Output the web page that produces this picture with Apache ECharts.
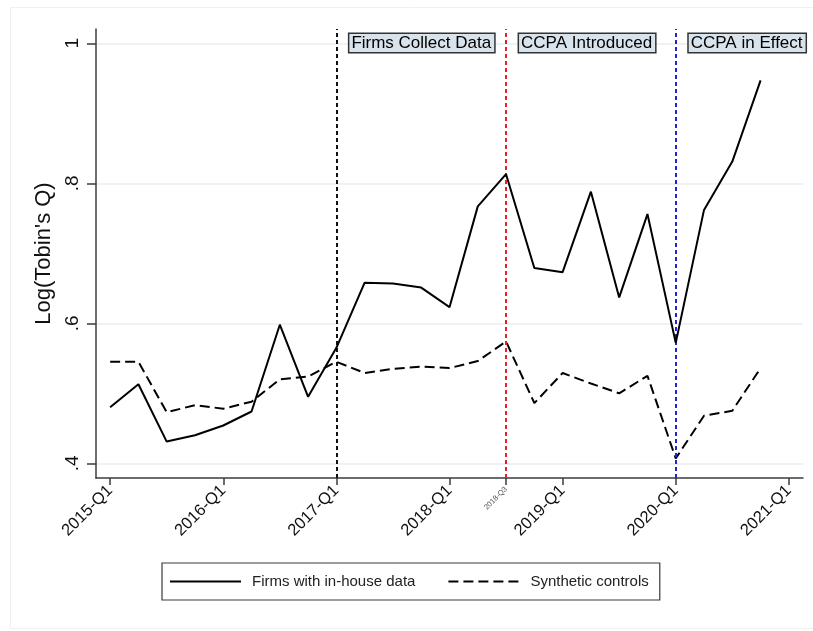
<!DOCTYPE html>
<html>
<head>
<meta charset="utf-8">
<script src="https://cdn.jsdelivr.net/npm/echarts@6/dist/echarts.min.js"></script>
<style>
  html, body { margin: 0; padding: 0; background: #fff; }
  #chart { width: 813px; height: 631px; }
</style>
</head>
<body>
<div id="chart"></div>
<script>
// Quarterly periods on the x axis (last one has no observation)
const quarters = [
  '2015-Q1','2015-Q2','2015-Q3','2015-Q4',
  '2016-Q1','2016-Q2','2016-Q3','2016-Q4',
  '2017-Q1','2017-Q2','2017-Q3','2017-Q4',
  '2018-Q1','2018-Q2','2018-Q3','2018-Q4',
  '2019-Q1','2019-Q2','2019-Q3','2019-Q4',
  '2020-Q1','2020-Q2','2020-Q3','2020-Q4',
  '2021-Q1'
];
// Quarters that get a tick and a label
const labelledQuarters = ['2015-Q1','2016-Q1','2017-Q1','2018-Q1','2018-Q3','2019-Q1','2020-Q1','2021-Q1'];

// Log(Tobin's Q)
const inHouse = [0.480, 0.513, 0.431, 0.440, 0.454, 0.474, 0.598, 0.495,
                 0.565, 0.658, 0.657, 0.651, 0.623, 0.767, 0.813, 0.679,
                 0.673, 0.788, 0.637, 0.756, 0.572, 0.762, 0.831, 0.947];
const synthetic = [0.545, 0.545, 0.473, 0.483, 0.478, 0.488, 0.520, 0.524,
                   0.545, 0.529, 0.535, 0.538, 0.536, 0.546, 0.574, 0.486,
                   0.529, 0.514, 0.500, 0.525, 0.407, 0.468, 0.475, 0.536];

const yTicks = [0.4, 0.6, 0.8, 1.0];

// Event markers: vertical line quarter, colour, and the period label that follows it
const events = [
  { start: '2017-Q1', end: '2018-Q3', color: '#111111', text: 'Firms Collect Data' },
  { start: '2018-Q3', end: '2020-Q1', color: '#e8202a', text: 'CCPA Introduced' },
  { start: '2020-Q1', end: '2021-Q1', color: '#2424cc', text: 'CCPA in Effect' }
];

const FONT = '"Liberation Sans", Arial, sans-serif';

const chart = echarts.init(document.getElementById('chart'), null, { renderer: 'canvas' });

chart.setOption({
  backgroundColor: '#ffffff',
  animation: false,
  textStyle: { fontFamily: FONT },
  graphic: [{
    type: 'rect',
    shape: { x: 10.5, y: 7.5, width: 820, height: 621 },
    style: { fill: 'none', stroke: '#f0f0f0', lineWidth: 1 },
    silent: true,
    z: -10
  }],
  grid: { left: 96, right: 10, top: 29, bottom: 153 },
  xAxis: {
    type: 'category',
    data: quarters,
    boundaryGap: true,
    axisLine: { show: true, lineStyle: { color: '#3c3c3c', width: 1.5 } },
    axisTick: {
      show: true,
      alignWithLabel: true,
      length: 7,
      interval: (i, v) => labelledQuarters.includes(v),
      lineStyle: { color: '#3c3c3c', width: 1.5 }
    },
    axisLabel: {
      interval: (i, v) => labelledQuarters.includes(v),
      rotate: 45,
      margin: 10,
      fontSize: 16.5,
      color: '#111',
      fontFamily: FONT,
      formatter: v => v === '2018-Q3' ? '{small|' + v + '}' : v,
      rich: { small: { fontSize: 7.5, color: '#555', fontFamily: FONT } }
    },
    splitLine: { show: false }
  },
  yAxis: {
    type: 'value',
    min: 0.379,
    max: 1.0204,
    name: "Log(Tobin's Q)",
    nameLocation: 'middle',
    nameGap: 38,
    nameRotate: 90,
    nameTextStyle: { fontSize: 22, color: '#111', fontFamily: FONT },
    axisLine: { show: true, lineStyle: { color: '#3c3c3c', width: 1.5 } },
    axisTick: {
      show: true,
      length: 9,
      customValues: yTicks,
      lineStyle: { color: '#3c3c3c', width: 1.5 }
    },
    axisLabel: {
      customValues: yTicks,
      rotate: 90,
      align: 'center',
      verticalAlign: 'bottom',
      margin: 14,
      fontSize: 19,
      color: '#111',
      fontFamily: FONT,
      formatter: v => (Math.abs(v - 1) < 1e-9 ? '1' : String(+v.toFixed(1)).replace(/^0/, ''))
    },
    splitLine: { show: true, lineStyle: { color: '#e6eef2', width: 1.5 } }
  },
  legend: {
    left: 162,
    top: 563,
    orient: 'horizontal',
    itemWidth: 71,
    itemHeight: 14,
    itemGap: 32,
    padding: [11, 11, 11, 7],
    borderColor: '#3a3a3a',
    borderWidth: 1.2,
    backgroundColor: '#fff',
    itemStyle: { opacity: 0, borderWidth: 0 },
    textStyle: { fontSize: 15, color: '#222', fontFamily: FONT, padding: [0, 0, 0, 6] },
    data: ['Firms with in-house data', 'Synthetic controls']
  },
  series: [
    {
      name: 'Firms with in-house data',
      type: 'line',
      data: inHouse,
      symbol: 'none',
      showSymbol: false,
      lineStyle: { color: '#000', width: 2, type: 'solid' },
      itemStyle: { color: '#000' },
      z: 5,
      markLine: {
        silent: true,
        symbol: ['none', 'none'],
        label: { show: false },
        animation: false,
        data: events.map(e => ({
          xAxis: e.start,
          lineStyle: { color: e.color, type: [4, 3], width: 2 }
        }))
      },
      markArea: {
        silent: true,
        itemStyle: { color: 'rgba(0,0,0,0)' },
        label: {
          show: true,
          position: 'insideTopLeft',
          distance: 5,
          offset: [8, 0],
          fontSize: 17,
          lineHeight: 18,
          color: '#000',
          fontFamily: FONT,
          backgroundColor: '#d8e3ec',
          borderColor: '#333',
          borderWidth: 1.5,
          padding: [0, 3, 0, 2]
        },
        data: events.map(e => [{ xAxis: e.start, name: e.text }, { xAxis: e.end }])
      }
    },
    {
      name: 'Synthetic controls',
      type: 'line',
      data: synthetic,
      symbol: 'none',
      showSymbol: false,
      lineStyle: { color: '#000', width: 2, type: [10, 5] },
      itemStyle: { color: '#000' },
      z: 4
    }
  ]
});
</script>
</body>
</html>
